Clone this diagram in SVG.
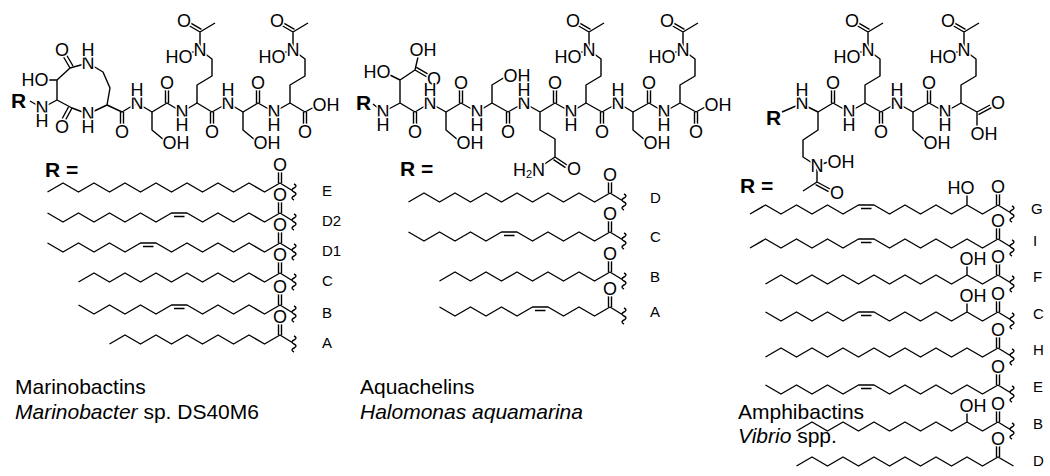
<svg xmlns="http://www.w3.org/2000/svg" xmlns:xlink="http://www.w3.org/1999/xlink" width="1050" height="476" viewBox="0 0 1050 476">
<style>
.b{fill:none;stroke:#000;stroke-width:1.4;stroke-linejoin:round}
.a{font-family:"Liberation Sans",Arial,sans-serif;font-size:18px;text-anchor:middle;dominant-baseline:central;fill:#000;stroke:#fff;stroke-width:3;paint-order:stroke}
.l{font-family:"Liberation Sans",Arial,sans-serif;font-size:15px;dominant-baseline:central;fill:#000}
.ti{font-family:"Liberation Sans",Arial,sans-serif;font-size:21px;fill:#000}
.R{font-family:"Liberation Sans",Arial,sans-serif;font-size:21px;font-weight:bold;fill:#000}
</style>
<defs>
<g id="co"><path class="b" d="M-1.5,0V-11M1.5,0V-11"/><text class="a" x="0" y="-18">O</text></g>
<g id="acyl"><use xlink:href="#co"/><path class="b" d="M0,0l13,8M14,1q4,2 0,4q-4,2 0,4q4,2 0,4q-4,2 0,4"/></g>
<g id="coU"><path class="b" d="M-1.5,0V-13M1.5,0V-13"/><text class="a" x="0" y="-20">O</text></g>
<g id="coD"><path class="b" d="M-1.5,0V13M1.5,0V13"/><text class="a" x="0" y="20">O</text></g>
<g id="nhU"><text class="a" x="0" y="0">N</text><text class="a" x="0" y="-13">H</text></g>
<g id="nhD"><text class="a" x="0" y="0">N</text><text class="a" x="0" y="13">H</text></g>
<g id="serD"><path class="b" d="M0,0V18L12,28"/><text class="a" x="24" y="31">OH</text></g>
<g id="ornU"><path class="b" d="M0,0V-18L15,-27V-44L3,-53V-71L18,-80M3,-71L-9,-78M4.5,-73.6L-7.5,-80.6M3,-53L-7,-50"/><text class="a" x="3" y="-53">N</text><text class="a" x="-18" y="-46">HO</text><text class="a" x="-13" y="-82">O</text></g>
</defs>

<g id="marinobactin-core">
<path class="b" d="M30,101L42,108L57,100L57,80L70,68L88,63L103,72L110,88L107,105L88,114L72,108L57,100M57,80L45,80M70,68L63,56M73,66L66,54M72,108L65,121M69,106L62,119M107,105L122,112L137,103L152,112L167,103L182,112L197,103L212,112L228,103L243,112L258,103L274,112L290,103L305,112L316,106"/>
<text class="R" x="11" y="108">R</text>
<use xlink:href="#nhD" x="42" y="108"/>
<text class="a" x="35" y="80">HO</text>
<text class="a" x="62" y="50">O</text>
<text class="a" x="62" y="127">O</text>
<use xlink:href="#nhU" x="88" y="63"/>
<use xlink:href="#nhD" x="88" y="114"/>
<use xlink:href="#coD" x="122" y="112"/>
<use xlink:href="#nhU" x="137" y="103"/>
<use xlink:href="#serD" x="152" y="112"/>
<use xlink:href="#coU" x="167" y="103"/>
<use xlink:href="#nhD" x="182" y="112"/>
<use xlink:href="#ornU" x="197" y="103"/>
<use xlink:href="#coD" x="212" y="112"/>
<use xlink:href="#nhU" x="228" y="103"/>
<use xlink:href="#serD" x="243" y="112"/>
<use xlink:href="#coU" x="258" y="103"/>
<use xlink:href="#nhD" x="274" y="112"/>
<use xlink:href="#ornU" x="290" y="103"/>
<use xlink:href="#coD" x="305" y="112"/>
<text class="a" x="326" y="105">OH</text>
<text class="R" x="45" y="177">R =</text>
</g>

<g id="marinobactin-chains">
<path class="b" d="M47.5,192l15.5,-9 15.5,9 15.5,-9 15.5,9 15.5,-9 15.5,9 15.5,-9 15.5,9 15.5,-9 15.5,9 15.5,-9 15.5,9 15.5,-9 15.5,9 15.5,-9"/>
<use xlink:href="#acyl" x="280" y="183"/><text class="l" x="322" y="190">E</text>
<path class="b" d="M47.5,213l15.5,9 15.5,-9 15.5,9 15.5,-9 15.5,9 15.5,-9 15.5,9 15.5,-9 15.5,0 15.5,9 15.5,-9 15.5,9 15.5,-9 15.5,9 15.5,-9M174,216.5H184.5"/>
<use xlink:href="#acyl" x="280" y="213"/><text class="l" x="322" y="220">D2</text>
<path class="b" d="M47.5,243l15.5,9 15.5,-9 15.5,9 15.5,-9 15.5,9 15.5,-9 15.5,0 15.5,9 15.5,-9 15.5,9 15.5,-9 15.5,9 15.5,-9 15.5,9 15.5,-9M143,246.5H153.5"/>
<use xlink:href="#acyl" x="280" y="243"/><text class="l" x="322" y="250">D1</text>
<path class="b" d="M78.5,282l15.5,-9 15.5,9 15.5,-9 15.5,9 15.5,-9 15.5,9 15.5,-9 15.5,9 15.5,-9 15.5,9 15.5,-9 15.5,9 15.5,-9"/>
<use xlink:href="#acyl" x="280" y="273"/><text class="l" x="322" y="280">C</text>
<path class="b" d="M78.5,305l15.5,9 15.5,-9 15.5,9 15.5,-9 15.5,9 15.5,-9 15.5,0 15.5,9 15.5,-9 15.5,9 15.5,-9 15.5,9 15.5,-9M174,308.5H184.5"/>
<use xlink:href="#acyl" x="280" y="305"/><text class="l" x="322" y="312">B</text>
<path class="b" d="M109.5,344l15.5,-9 15.5,9 15.5,-9 15.5,9 15.5,-9 15.5,9 15.5,-9 15.5,9 15.5,-9 15.5,9 15.5,-9"/>
<use xlink:href="#acyl" x="280" y="335"/><text class="l" x="322" y="342">A</text>
<text class="ti" x="15" y="394">Marinobactins</text>
<text class="ti" x="15" y="419"><tspan font-style="italic">Marinobacter</tspan> sp. DS40M6</text>
</g>

<g id="aquachelin-core">
<path class="b" d="M373,104L383,112L400,103L415,112L430,103L446,112L461,103L477,112L492,103L508,112L524,103L540,112L555,103L571,112L586,103L602,112L618,103L633,112L649,103L664,112L680,103L696,112L707,106M400,103V80L415,70M400,80L390,75M415,70L418,57M415,70L427,77M416.5,67.4L428.5,74.4M492,103V85L505,77M540,112V130L555,139V157L567,165M553.5,159.6L565.5,167.6M555,157L543,165"/>
<text class="R" x="356" y="110">R</text>
<use xlink:href="#nhD" x="383" y="112"/>
<text class="a" x="377" y="72">HO</text>
<text class="a" x="423" y="50">OH</text>
<text class="a" x="434" y="79">O</text>
<use xlink:href="#coD" x="415" y="112"/>
<use xlink:href="#nhU" x="430" y="103"/>
<use xlink:href="#serD" x="446" y="112"/>
<use xlink:href="#coU" x="461" y="103"/>
<use xlink:href="#nhD" x="477" y="112"/>
<text class="a" x="517" y="76">OH</text>
<use xlink:href="#coD" x="508" y="112"/>
<use xlink:href="#nhU" x="524" y="103"/>
<text class="a" x="529" y="170">H<tspan font-size="11" dy="4">2</tspan><tspan dy="-4">N</tspan></text>
<text class="a" x="574" y="169">O</text>
<use xlink:href="#coU" x="555" y="103"/>
<use xlink:href="#nhD" x="571" y="112"/>
<use xlink:href="#ornU" x="586" y="103"/>
<use xlink:href="#coD" x="602" y="112"/>
<use xlink:href="#nhU" x="618" y="103"/>
<use xlink:href="#serD" x="633" y="112"/>
<use xlink:href="#coU" x="649" y="103"/>
<use xlink:href="#nhD" x="664" y="112"/>
<use xlink:href="#ornU" x="680" y="103"/>
<use xlink:href="#coD" x="696" y="112"/>
<text class="a" x="718" y="105">OH</text>
<text class="R" x="400" y="176">R =</text>
</g>

<g id="aquachelin-chains">
<path class="b" d="M408.5,202l15.5,-9 15.5,9 15.5,-9 15.5,9 15.5,-9 15.5,9 15.5,-9 15.5,9 15.5,-9 15.5,9 15.5,-9 15.5,9 15.5,-9"/>
<use xlink:href="#acyl" x="610" y="193"/><text class="l" x="650" y="197">D</text>
<path class="b" d="M408.5,232l15.5,9 15.5,-9 15.5,9 15.5,-9 15.5,9 15.5,-9 15.5,0 15.5,9 15.5,-9 15.5,9 15.5,-9 15.5,9 15.5,-9M504,235.5H514.5"/>
<use xlink:href="#acyl" x="610" y="232"/><text class="l" x="650" y="236">C</text>
<path class="b" d="M439.5,281l15.5,-9 15.5,9 15.5,-9 15.5,9 15.5,-9 15.5,9 15.5,-9 15.5,9 15.5,-9 15.5,9 15.5,-9"/>
<use xlink:href="#acyl" x="610" y="272"/><text class="l" x="650" y="276">B</text>
<path class="b" d="M439.5,307l15.5,9 15.5,-9 15.5,9 15.5,-9 15.5,9 15.5,-9 15.5,0 15.5,9 15.5,-9 15.5,9 15.5,-9M535,310.5H545.5"/>
<use xlink:href="#acyl" x="610" y="307"/><text class="l" x="650" y="311">A</text>
<text class="ti" x="360" y="394">Aquachelins</text>
<text class="ti" x="360" y="419" font-style="italic">Halomonas aquamarina</text>
</g>

<g id="amphibactin-core">
<path class="b" d="M782,112L796,106M808,107L818,112L833,103L849,112L865,103L881,112L897,103L913,112L929,103L945,112L961,103L977,112L990,105M978.5,114.6L991.5,107.6M977,112V126M818,112V130L803,140V157L817,166L828,162M817,166V182L803,191M817,182L830,189M815.6,184.6L828.6,191.6"/>
<text class="R" x="766" y="125">R</text>
<use xlink:href="#nhU" x="802" y="103"/>
<text class="a" x="817" y="166">N</text>
<text class="a" x="841" y="162">OH</text>
<text class="a" x="837" y="193">O</text>
<use xlink:href="#coU" x="833" y="103"/>
<use xlink:href="#nhD" x="849" y="112"/>
<use xlink:href="#ornU" x="865" y="103"/>
<use xlink:href="#coD" x="881" y="112"/>
<use xlink:href="#nhU" x="897" y="103"/>
<use xlink:href="#serD" x="913" y="112"/>
<use xlink:href="#coU" x="929" y="103"/>
<use xlink:href="#nhD" x="945" y="112"/>
<use xlink:href="#ornU" x="961" y="103"/>
<text class="a" x="998" y="103">O</text>
<text class="a" x="984" y="134">OH</text>
<text class="R" x="740" y="193">R =</text>
</g>

<g id="amphibactin-chains">
<path class="b" d="M750,214l15.5,-9 15.5,9 15.5,-9 15.5,9 15.5,-9 15.5,9 15.5,-9 15.5,0 15.5,9 15.5,-9 15.5,9 15.5,-9 15.5,9 15.5,-9 15.5,9 15.5,-9M861,208.5H871.5M967,205V195"/>
<text class="a" x="961" y="188">HO</text>
<use xlink:href="#acyl" x="998" y="205"/><text class="l" x="1031" y="208" font-size="12">G</text>
<path class="b" d="M750,248l15.5,-9 15.5,9 15.5,-9 15.5,9 15.5,-9 15.5,9 15.5,-9 15.5,0 15.5,9 15.5,-9 15.5,9 15.5,-9 15.5,9 15.5,-9 15.5,9 15.5,-9M861,242.5H871.5"/>
<use xlink:href="#acyl" x="998" y="239"/><text class="l" x="1033" y="240">I</text>
<path class="b" d="M765.5,284l15.5,-9 15.5,9 15.5,-9 15.5,9 15.5,-9 15.5,9 15.5,-9 15.5,9 15.5,-9 15.5,9 15.5,-9 15.5,9 15.5,-9 15.5,9 15.5,-9M967,275V266"/>
<text class="a" x="973" y="259">OH</text>
<use xlink:href="#acyl" x="998" y="275"/><text class="l" x="1033" y="276">F</text>
<path class="b" d="M765.5,312l15.5,9 15.5,-9 15.5,9 15.5,-9 15.5,9 15.5,-9 15.5,0 15.5,9 15.5,-9 15.5,9 15.5,-9 15.5,9 15.5,-9 15.5,9 15.5,-9M861,315.5H871.5M967,312V303"/>
<text class="a" x="973" y="296">OH</text>
<use xlink:href="#acyl" x="998" y="312"/><text class="l" x="1033" y="313">C</text>
<path class="b" d="M765.5,357l15.5,-9 15.5,9 15.5,-9 15.5,9 15.5,-9 15.5,9 15.5,-9 15.5,9 15.5,-9 15.5,9 15.5,-9 15.5,9 15.5,-9 15.5,9 15.5,-9"/>
<use xlink:href="#acyl" x="998" y="348"/><text class="l" x="1033" y="349">H</text>
<path class="b" d="M765.5,385l15.5,9 15.5,-9 15.5,9 15.5,-9 15.5,9 15.5,-9 15.5,0 15.5,9 15.5,-9 15.5,9 15.5,-9 15.5,9 15.5,-9 15.5,9 15.5,-9M861,388.5H871.5"/>
<use xlink:href="#acyl" x="998" y="385"/><text class="l" x="1033" y="386">E</text>
<path class="b" d="M796.5,431l15.5,-9 15.5,9 15.5,-9 15.5,9 15.5,-9 15.5,9 15.5,-9 15.5,9 15.5,-9 15.5,9 15.5,-9 15.5,9 15.5,-9M967,422V413"/>
<text class="a" x="973" y="406">OH</text>
<use xlink:href="#acyl" x="998" y="422"/><text class="l" x="1033" y="423">B</text>
<path class="b" d="M796.5,466l15.5,-9 15.5,9 15.5,-9 15.5,9 15.5,-9 15.5,9 15.5,-9 15.5,9 15.5,-9 15.5,9 15.5,-9 15.5,9 15.5,-9 15.5,9"/>
<use xlink:href="#co" x="998" y="457"/><text class="l" x="1033" y="460">D</text>
<text class="ti" x="738" y="419">Amphibactins</text>
<text class="ti" x="738" y="443"><tspan font-style="italic">Vibrio</tspan> spp.</text>
</g>
</svg>
